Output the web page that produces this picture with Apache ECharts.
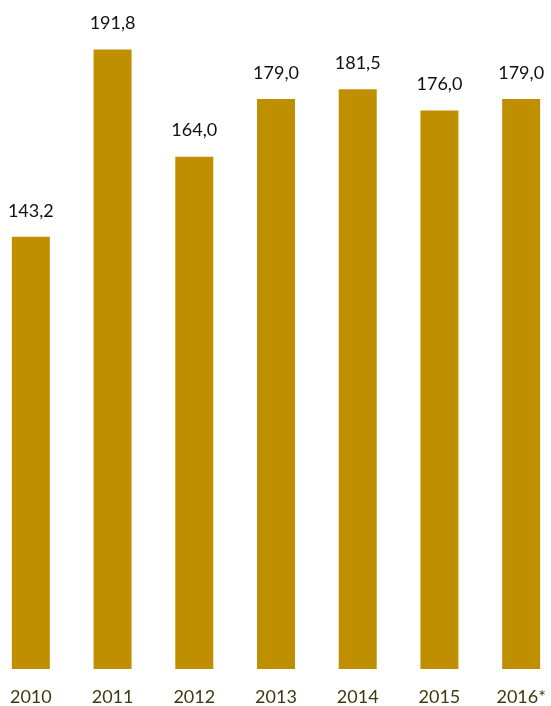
<!DOCTYPE html>
<html>
<head>
<meta charset="utf-8">
<script src="https://cdn.jsdelivr.net/npm/echarts@6/dist/echarts.min.js"></script>
<style>
  html, body { margin: 0; padding: 0; background: #fff; overflow: hidden; }
  /* plot is a bit wider than the window: outer bars sit close to the edges */
  #chart { width: 572px; height: 706px; margin-left: -10px; }
</style>
</head>
<body>
<div id="chart"></div>
<script>
const years = ['2010', '2011', '2012', '2013', '2014', '2015', '2016*']
const values = [143.2, 191.8, 164.0, 179.0, 181.5, 176.0, 179.0]

const chart = echarts.init(document.getElementById('chart'), null, { renderer: 'canvas' })

const option = {
  animation: false,
  grid: { left: 0, right: 0, top: 18, bottom: 37 },
  xAxis: {
    type: 'category',
    data: years,
    axisLine: { show: false },
    axisTick: { show: false },
    axisLabel: {
      color: '#3d3a12',
      fontFamily: 'Lato',
      fontSize: 18,
      margin: 19,
    },
  },
  yAxis: {
    type: 'value',
    min: 31,
    max: 200,
    show: false,
  },
  series: [{
    type: 'bar',
    data: values,
    barWidth: 38,
    itemStyle: { color: '#bf8f00' },
    label: {
      show: true,
      position: 'top',
      distance: 17,
      color: '#111',
      fontFamily: 'Lato',
      fontSize: 18,
      formatter: (p) => p.value.toFixed(1).replace('.', ','),
    },
  }],
}

chart.setOption(option)
</script>
</body>
</html>
